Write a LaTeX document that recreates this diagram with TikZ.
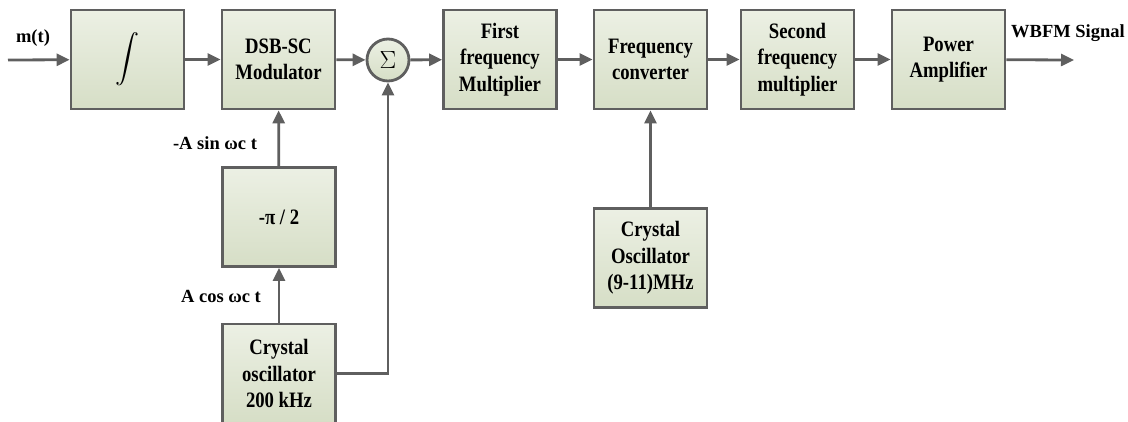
\documentclass[tikz,border=0pt]{standalone}
\usepackage{fontspec}
\setmainfont{Liberation Serif}
\newfontfamily\blockfont{Liberation Serif}[FakeStretch=0.85]
\usepackage{tikz}
\usetikzlibrary{arrows.meta}
\usetikzlibrary{shapes}
\usetikzlibrary{backgrounds}

\definecolor{edgegray}{RGB}{95,95,95}
\definecolor{boxtop}{RGB}{236,240,228}
\definecolor{boxbot}{RGB}{214,222,198}

\tikzset{
  block/.style={draw=edgegray, line width=2.8pt, top color=boxtop, bottom color=boxbot,
                minimum width=113pt, minimum height=99pt, inner sep=2pt,
                align=center, font=\blockfont\fontsize{22}{26.5}\selectfont\bfseries},
  adder/.style={circle, draw=edgegray, line width=2.8pt, top color=boxtop, bottom color=boxbot,
                minimum size=42pt, inner sep=0pt, font=\fontsize{24}{24}\selectfont},
  sig/.style={font=\fontsize{18.5}{22}\selectfont\bfseries, inner sep=0pt},
  wire/.style={draw=edgegray, line width=2.8pt},
  flow/.style={wire, -{Triangle[length=13pt,width=12pt]}}
}

\begin{document}
\begin{tikzpicture}[x=1pt,y=-1pt]
\useasboundingbox (0,0) rectangle (1128,421);
\clip (0,0) rectangle (1128,421);

% main chain
\node [block] (integ) at (127.5,59.5) {\scalebox{2.4}{$\displaystyle\int$}};
\node [block] (dsb)   at (278.5,59.5) {DSB-SC\\Modulator};
\node [adder] (sum)   at (388,60) {$\Sigma$};
\node [block] (mult1) at (500,59.5) {First\\frequency\\Multiplier};
\node [block] (conv)  at (650.5,59.5) {Frequency\\converter};
\node [block] (mult2) at (797.5,59.5) {Second\\frequency\\multiplier};
\node [block] (amp)   at (948.5,59.5) {Power\\Amplifier};

% carrier branch
\node [block] (shift) at (279,217) {-π / 2};
\node [block] (osc1)  at (279,373.5) {Crystal\\oscillator\\200 kHz};
\node [block] (osc2)  at (650.5,258) {Crystal\\Oscillator\\(9-11)MHz};

\coordinate (in)  at (8,60);
\coordinate (out) at (1074,60);

% labels
\node [sig] (msg)  at (33,38)   {m(t)};
\node [sig] (wbfm) at (1068,33) {WBFM Signal};
\node [sig] (sinc) at (215,143) {-A sin ωc t};
\node [sig] (cosc) at (221,296) {A cos ωc t};

\draw [flow] (in) -- (integ);
\draw [flow] (integ) -- (dsb);
\draw [flow] (dsb) -- (sum);
\draw [flow] (sum) -- (mult1);
\draw [flow] (mult1) -- (conv);
\draw [flow] (conv) -- (mult2);
\draw [flow] (mult2) -- (amp);
\draw [flow] (amp) -- (out);
\draw [flow] (shift) -- (dsb);
\draw [flow] (osc1) -- (shift);
\draw [flow] (osc1.east) -| (sum.south);
\draw [flow] (osc2) -- (conv);
\end{tikzpicture}
\end{document}
